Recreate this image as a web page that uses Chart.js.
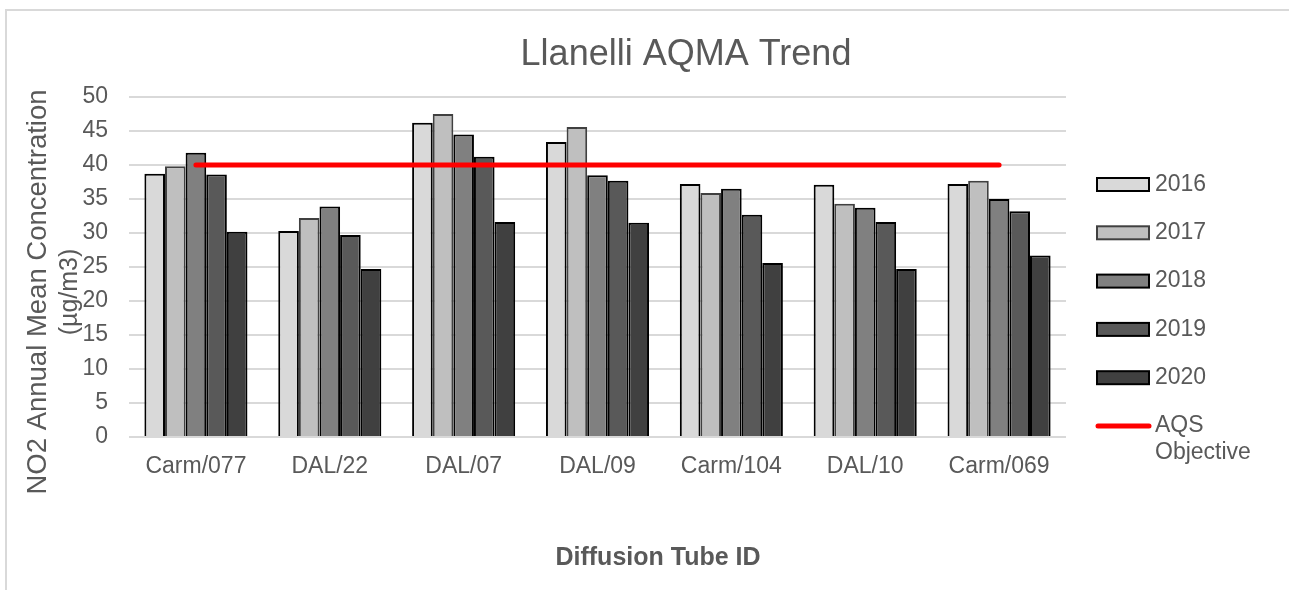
<!DOCTYPE html>
<html><head><meta charset="utf-8">
<script src="https://cdn.jsdelivr.net/npm/chart.js@4.4.1/dist/chart.umd.min.js"></script>
<style>html,body{margin:0;padding:0;background:#fff;} canvas{display:block;}</style>
</head><body>
<canvas id="c" width="1289" height="590"></canvas>
<script>
const categories = ['Carm/077', 'DAL/22', 'DAL/07', 'DAL/09', 'Carm/104', 'DAL/10', 'Carm/069'];
const seriesNames = ['2016', '2017', '2018', '2019', '2020'];
const v2016 = [38.7, 30.3, 46.2, 43.4, 37.2, 37.1, 37.2];
const v2017 = [39.8, 32.2, 47.5, 45.6, 35.9, 34.3, 37.7];
const v2018 = [41.8, 33.9, 44.5, 38.5, 36.5, 33.7, 35.0];
const v2019 = [38.6, 29.7, 41.2, 37.7, 32.7, 31.6, 33.2];
const v2020 = [30.2, 24.7, 31.6, 31.5, 25.6, 24.7, 26.7];
const aqsObjective = [40, 40, 40, 40, 40, 40, 40];
const objectiveLabel = 'AQS Objective';
const yTickMin = 0, yTickMax = 50, yTickStep = 5;
const chartTitle = 'Llanelli AQMA Trend';
const yTitleLines = ['NO2 Annual Mean Concentration', '(µg/m3)'];
const xTitle = 'Diffusion Tube ID';

const FONT = "'Liberation Sans', Arial, sans-serif";
const TXT = '#595959';
const fills = ['#d9d9d9', '#bfbfbf', '#808080', '#595959', '#404040'];
const strokes = ['#000000', '#404040', '#000000', '#000000', '#000000'];
const seriesValues = [v2016, v2017, v2018, v2019, v2020];

const datasets = seriesNames.map((n, i) => ({
  type: 'bar', label: n, data: seriesValues[i],
  backgroundColor: fills[i], borderColor: strokes[i], borderWidth: 2,
  barPercentage: 1, categoryPercentage: 0.77, order: 2
}));
datasets.push({
  type: 'line', label: objectiveLabel, data: aqsObjective,
  borderColor: '#ff0000', borderWidth: 5, borderCapStyle: 'round',
  pointRadius: 0, tension: 0, fill: false, order: 0
});

const decor = {
  id: 'decor',
  beforeDraw(chart) {
    const ctx = chart.ctx;
    ctx.save();
    ctx.fillStyle = '#fff';
    ctx.fillRect(0, 0, chart.width, chart.height);
    ctx.strokeStyle = '#d9d9d9';
    ctx.lineWidth = 2;
    ctx.strokeRect(6, 10, 1400, 700);
    ctx.restore();
  },
  afterDraw(chart) {
    const ctx = chart.ctx;
    ctx.save();
    ctx.fillStyle = TXT;
    ctx.font = '36px ' + FONT;
    ctx.textAlign = 'center';
    ctx.textBaseline = 'alphabetic';
    ctx.fillText(chartTitle, 686, 65);
    ctx.font = 'bold 25px ' + FONT;
    ctx.textBaseline = 'middle';
    ctx.fillText(xTitle, 658, 558);
    ctx.save();
    ctx.translate(0, 292);
    ctx.rotate(-Math.PI / 2);
    ctx.textAlign = 'center';
    ctx.textBaseline = 'middle';
    ctx.font = '27.5px ' + FONT;
    ctx.fillText(yTitleLines[0], 0, 38);
    ctx.font = '25px ' + FONT;
    ctx.fillText(yTitleLines[1], 0, 70);
    ctx.restore();
    ctx.font = '23px ' + FONT;
    ctx.textAlign = 'left';
    ctx.textBaseline = 'middle';
    const ds = chart.data.datasets;
    for (let i = 0; i < ds.length; i++) {
      const y = 184.5 + i * 48.3;
      if (ds[i].type === 'bar') {
        ctx.fillStyle = ds[i].backgroundColor;
        ctx.fillRect(1097, y - 6.5, 52, 13);
        ctx.strokeStyle = ds[i].borderColor;
        ctx.lineWidth = 2;
        ctx.strokeRect(1097, y - 6.5, 52, 13);
        ctx.fillStyle = TXT;
        ctx.fillText(ds[i].label, 1155, y);
      } else {
        ctx.strokeStyle = ds[i].borderColor;
        ctx.lineWidth = 5;
        ctx.lineCap = 'round';
        ctx.beginPath();
        ctx.moveTo(1098, y);
        ctx.lineTo(1149, y);
        ctx.stroke();
        ctx.fillStyle = TXT;
        const parts = ds[i].label.split(' ');
        ctx.fillText(parts[0], 1155, y);
        ctx.fillText(parts[1], 1155, y + 27);
      }
    }
    ctx.restore();
  }
};

new Chart(document.getElementById('c'), {
  data: { labels: categories, datasets },
  options: {
    responsive: false, animation: false, devicePixelRatio: 1,
    layout: { padding: { left: 0, top: 97, right: 223, bottom: 0 } },
    plugins: { legend: { display: false }, title: { display: false }, tooltip: { enabled: false } },
    scales: {
      x: {
        grid: { display: false, drawTicks: false },
        border: { display: false },
        ticks: { color: TXT, font: { family: FONT, size: 23 }, padding: 16, maxRotation: 0, autoSkip: false },
        afterFit(s) { s.height = 153; }
      },
      y: {
        min: yTickMin, max: yTickMax,
        grid: { color: '#d9d9d9', lineWidth: 2, drawTicks: false },
        border: { display: false },
        ticks: { stepSize: yTickStep, color: TXT, font: { family: FONT, size: 23 }, padding: 21 },
        afterFit(s) { s.width = 129; }
      }
    }
  },
  plugins: [decor]
});
</script>
</body></html>
